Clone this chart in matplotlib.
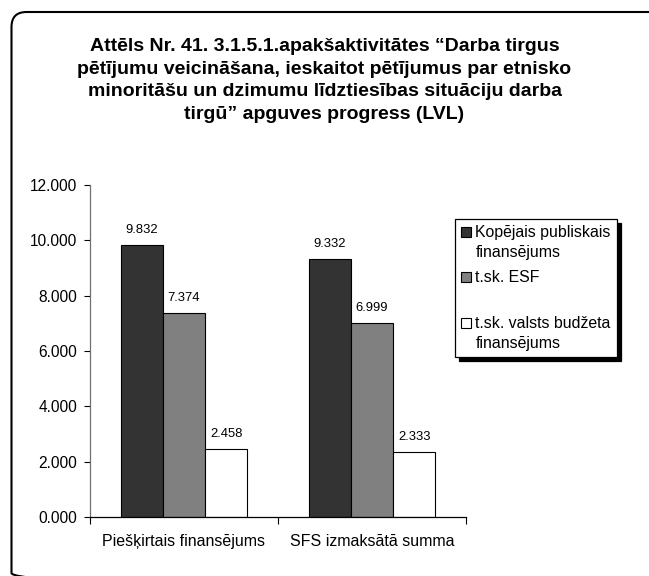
import matplotlib
matplotlib.use("Agg")
import matplotlib.pyplot as plt
from matplotlib.patches import FancyBboxPatch, Rectangle
from matplotlib.legend_handler import HandlerPatch

plt.rcParams["font.family"] = ["Liberation Sans", "DejaVu Sans"]

title = ("Attēls Nr. 41. 3.1.5.1.apakšaktivitātes “Darba tirgus\n"
         "pētījumu veicināšana, ieskaitot pētījumus par etnisko\n"
         "minoritāšu un dzimumu līdztiesības situāciju darba\n"
         "tirgū” apguves progress (LVL)")
categories = ["Piešķirtais finansējums", "SFS izmaksātā summa"]
series_names = ["Kopējais publiskais\nfinansējums", "t.sk. ESF\n",
                "t.sk. valsts budžeta\nfinansējums"]
kopejais = [9.832, 9.332]
esf = [7.374, 6.999]
budzets = [2.458, 2.333]
y_ticks = [0, 2, 4, 6, 8, 10, 12]

colors = ["#333333", "#808080", "#ffffff"]


class TopSquareHandler(HandlerPatch):
    """Square legend key lifted to the first line of a two-line label."""

    def __init__(self, lift, **kw):
        super().__init__(**kw)
        self.lift = lift

    def create_artists(self, legend, orig_handle, xdescent, ydescent,
                       width, height, fontsize, trans):
        p = Rectangle((-xdescent, -ydescent + self.lift), width, height)
        self.update_prop(p, orig_handle, legend)
        p.set_transform(trans)
        return [p]


W, H = 649, 576
fig = plt.figure(figsize=(W / 100, H / 100), dpi=100)

# pixel-space background axes for the rounded outer frame
bg = fig.add_axes([0, 0, 1, 1], zorder=-1)
bg.set_xlim(0, W)
bg.set_ylim(H, 0)
bg.axis("off")
bg.add_patch(FancyBboxPatch((11.5, 12), 652, 576,
                            boxstyle="round,pad=0,rounding_size=15",
                            facecolor="none", edgecolor="black", linewidth=1.5))

ax = fig.add_axes([90 / W, 1 - 517 / H, 376 / W, 332 / H])
ax.patch.set_alpha(0)

bw = 0.225
x = list(range(len(categories)))
bars = []
for k, (vals, col, name) in enumerate(zip([kopejais, esf, budzets], colors, series_names)):
    xs = [xi + (k - 1) * bw for xi in x]
    b = ax.bar(xs, vals, width=bw, color=col, edgecolor="black", linewidth=0.8,
               label=name, zorder=2)
    bars.append(b)
    for xi, v in zip(xs, vals):
        ax.annotate(f"{v:.3f}", (xi, v), xytext=(0, 6.5), textcoords="offset points",
                    ha="center", va="bottom", fontsize=9.4)

ax.set_xlim(-0.5, 1.5)
ax.set_ylim(0, 12)
ax.set_yticks(y_ticks)
ax.set_yticklabels([f"{v:.3f}" for v in y_ticks])
ax.tick_params(axis="y", direction="out", length=4, width=0.8, pad=5, labelsize=11.2)

ax.set_xticks([-0.5, 0.5, 1.5])
ax.set_xticklabels([])
ax.tick_params(axis="x", which="major", direction="out", length=5, width=0.8)
ax.set_xticks(x, minor=True)
ax.set_xticklabels(categories, minor=True)
ax.tick_params(axis="x", which="minor", length=0, pad=12, labelsize=11.5)

for s in ["top", "right"]:
    ax.spines[s].set_visible(False)
ax.spines["left"].set_color("#707070")
ax.spines["left"].set_linewidth(0.9)
ax.spines["bottom"].set_linewidth(0.9)

fs_leg = 11.4
ls_leg = 1.39
lift = 0.5 * ls_leg * fs_leg
leg = ax.legend(handles=[b.patches[0] for b in bars], labels=series_names,
                loc="upper left",
                bbox_to_anchor=(455 / W, 1 - 219 / H), bbox_transform=fig.transFigure,
                borderaxespad=0, fontsize=fs_leg, frameon=True, fancybox=False,
                edgecolor="black", framealpha=1, borderpad=0.38,
                handlelength=0.6, handleheight=0.6, handletextpad=0.3,
                labelspacing=0.68,
                shadow={"color": "black", "alpha": 1, "ox": 3, "oy": -3},
                handler_map={Rectangle: TopSquareHandler(lift)})
leg.get_frame().set_linewidth(0.9)
for t in leg.get_texts():
    t.set_linespacing(ls_leg)

fig.text(0.5, 1 - 80.5 / H, title, ha="center", va="center", fontsize=14,
         fontweight="bold", linespacing=1.45)

fig.savefig("out.png", dpi=100)
